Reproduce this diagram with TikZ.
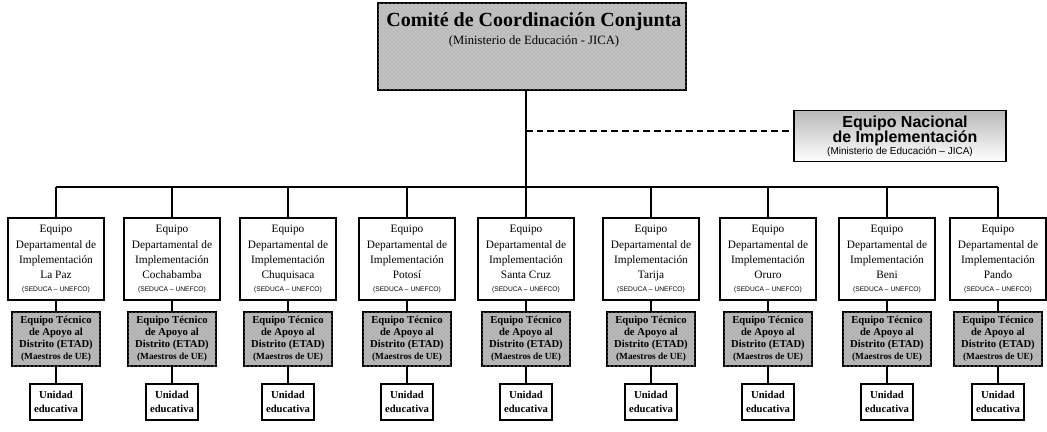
\documentclass[tikz,border=0pt]{standalone}
\usepackage{fontspec}
\setmainfont{Liberation Serif}
\newfontfamily\arialf{Liberation Sans}
\usetikzlibrary{patterns}
\begin{document}
\begin{tikzpicture}[x=0.75pt,y=-0.75pt,
  deptbox/.style={draw, line width=1.2pt, fill=white, minimum width=72pt, minimum height=61.5pt, inner sep=1pt, align=center, font=\fontsize{8.5}{11.5}\selectfont},
  etadbox/.style={draw, line width=1.6pt, fill=gray!62, postaction={pattern=crosshatch dots, pattern color=white!75!gray}, minimum width=66pt, minimum height=40.5pt, inner sep=1pt, align=center, font=\bfseries\fontsize{8}{9}\selectfont},
  unibox/.style={draw, line width=1.2pt, fill=white, minimum width=39pt, minimum height=27pt, inner sep=1pt, align=center, font=\bfseries\fontsize{8}{10}\selectfont},
  graybox/.style={draw, line width=1.5pt, fill=gray!55, postaction={pattern=crosshatch dots, pattern color=white!80!gray}},
  lbl/.style={inner sep=0pt, align=center},
  conn/.style={line width=0.9pt},
]
\useasboundingbox (0,0) rectangle (1047,432);
% top committee
\node[graybox, minimum width=231pt, minimum height=65pt] (top) at (532,46.5) {};
\node[lbl, font=\bfseries\fontsize{15}{16}\selectfont] (t1) at (534,22) {Comité de Coordinación Conjunta};
\node[lbl, font=\fontsize{9.5}{11}\selectfont] (t2) at (534,41) {(Ministerio de Educación - JICA)};
% national team
\node[draw, line width=1.2pt, top color=gray!55, bottom color=white, minimum width=159pt, minimum height=38pt] (nat) at (900,136) {};
\node[lbl, font=\arialf\bfseries\fontsize{12}{13}\selectfont] (n1) at (905,123) {Equipo Nacional};
\node[lbl, font=\arialf\bfseries\fontsize{12}{13}\selectfont] (n2) at (905,138) {de Implementación};
\node[lbl, font=\arialf\fontsize{7.5}{9}\selectfont] (n3) at (900,152) {(Ministerio de Educación – JICA)};
% trunk and dashed link
\coordinate (tb) at (526,187);
\coordinate (dj) at (526,131);
\draw[conn] (top.south -| tb) -- (tb);
\draw[conn, dash pattern=on 5pt off 3pt] (dj) -- (dj -| nat.west);
% departments
\foreach \i/\x/\n in {1/56/La Paz, 2/172/Cochabamba, 3/288/Chuquisaca, 4/407/Potosí, 5/526/Santa Cruz, 6/651/Tarija, 7/768/Oruro, 8/887/Beni, 9/998/Pando}{
  \node[deptbox] (d\i) at (\x,259) {Equipo\\Departamental de\\Implementación\\\n\\[-2pt]{\arialf\fontsize{5}{6}\selectfont (SEDUCA – UNEFCO)}};
  \node[etadbox] (e\i) at (\x,339) {Equipo Técnico\\de Apoyo al\\Distrito (ETAD)\\{\fontsize{7}{8}\selectfont (Maestros de UE)}};
  \node[unibox] (u\i) at (\x,402) {Unidad\\educativa};
  \coordinate (b\i) at (\x,187);
  \draw[conn] (b\i) -- (d\i.north);
  \draw[conn] (d\i.south) -- (e\i.north);
  \draw[conn] (e\i.south) -- (u\i.north);
}
\draw[conn] (b1) -- (b9);
\end{tikzpicture}
\end{document}
